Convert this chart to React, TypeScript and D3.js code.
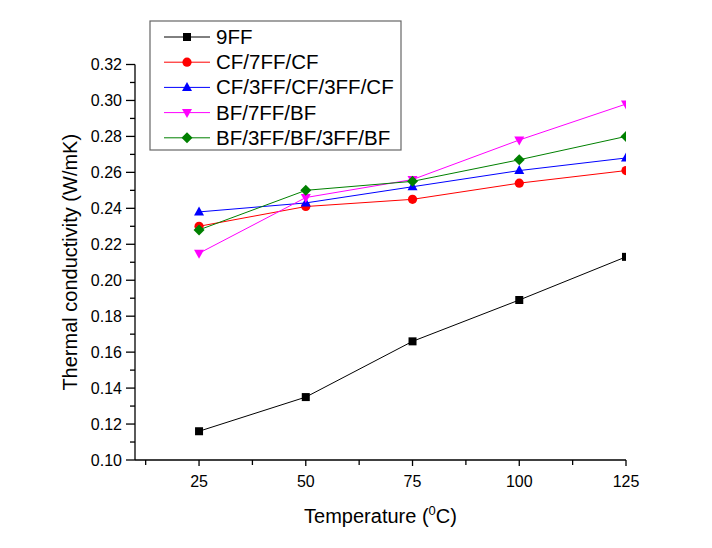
import React from "react";
import * as d3 from "d3";

const temps = [25, 50, 75, 100, 125];
const seriesNames = ["9FF", "CF/7FF/CF", "CF/3FF/CF/3FF/CF", "BF/7FF/BF", "BF/3FF/BF/3FF/BF"];
const s9FF = [0.116, 0.135, 0.166, 0.189, 0.213];
const sCF7 = [0.23, 0.241, 0.245, 0.254, 0.261];
const sCF3 = [0.238, 0.243, 0.252, 0.261, 0.268];
const sBF7 = [0.215, 0.246, 0.256, 0.278, 0.298];
const sBF3 = [0.228, 0.25, 0.255, 0.267, 0.28];
const seriesValues = [s9FF, sCF7, sCF3, sBF7, sBF3];
const colors = ["#000000", "#ff0000", "#0000ff", "#ff00ff", "#008000"];
const shapes = ["square", "circle", "triangle", "triangleDown", "diamond"];
const xTicks = [25, 50, 75, 100, 125];
const yTicks = [0.1, 0.12, 0.14, 0.16, 0.18, 0.2, 0.22, 0.24, 0.26, 0.28, 0.3, 0.32];

const W = 712, H = 548;
const left = 135, right = 626, top = 64.5, bottom = 460;
const FONT = "'Liberation Sans', Arial, sans-serif";

function Marker({ shape, x, y, color }: { shape: string; x: number; y: number; color: string }) {
  if (shape === "square") return <rect x={x - 4} y={y - 4} width={8} height={8} fill={color} />;
  if (shape === "circle") return <circle cx={x} cy={y} r={4.6} fill={color} />;
  if (shape === "triangle")
    return <path d={`M${x},${y - 5.5}L${x + 5},${y + 3.5}L${x - 5},${y + 3.5}Z`} fill={color} />;
  if (shape === "triangleDown")
    return <path d={`M${x},${y + 5.5}L${x + 5},${y - 3.5}L${x - 5},${y - 3.5}Z`} fill={color} />;
  return <path d={`M${x},${y - 5.5}L${x + 5.5},${y}L${x},${y + 5.5}L${x - 5.5},${y}Z`} fill={color} />;
}

export default function App() {
  const x = d3.scaleLinear().domain([10, 125]).range([left, right]);
  const y = d3.scaleLinear().domain([0.1, 0.32]).range([bottom, top]);
  const xMinor = d3.range(12.5, 125, 25);
  const yMinor = d3.range(0.11, 0.32, 0.02);
  const line = d3
    .line<number>()
    .x((_, i) => x(temps[i]))
    .y((d) => y(d));

  const legX = 150, legY = 21, legW = 251, legH = 129;
  const rowY = (i: number) => 37 + i * 25.2;

  return (
    <svg
      width={W}
      height={H}
      style={{ position: "absolute", left: 0, top: 0, background: "#fff" }}
      fontFamily={FONT}
    >
      <defs>
        <clipPath id="plotclip">
          <rect x={0} y={0} width={right} height={bottom} />
        </clipPath>
      </defs>
      <rect width={W} height={H} fill="#fff" />

      {/* axes */}
      <line x1={left} x2={left} y1={top} y2={bottom} stroke="#000" strokeWidth={1.3} />
      <line x1={left} x2={right} y1={bottom} y2={bottom} stroke="#000" strokeWidth={1.3} />
      {yTicks.map((t) => (
        <g key={"yt" + t}>
          <line x1={left - 9} x2={left} y1={y(t)} y2={y(t)} stroke="#000" strokeWidth={1.3} />
          <text x={left - 13} y={y(t) + 5.5} textAnchor="end" fontSize={16}>
            {t.toFixed(2)}
          </text>
        </g>
      ))}
      {yMinor.map((t) => (
        <line key={"ym" + t} x1={left - 5} x2={left} y1={y(t)} y2={y(t)} stroke="#000" strokeWidth={1.3} />
      ))}
      {xTicks.map((t) => (
        <g key={"xt" + t}>
          <line x1={x(t)} x2={x(t)} y1={bottom} y2={bottom + 6} stroke="#000" strokeWidth={1.3} />
          <text x={x(t)} y={bottom + 27} textAnchor="middle" fontSize={16}>
            {t}
          </text>
        </g>
      ))}
      {xMinor.map((t) => (
        <line key={"xm" + t} x1={x(t)} x2={x(t)} y1={bottom} y2={bottom + 5} stroke="#000" strokeWidth={1.3} />
      ))}

      {/* axis titles */}
      <text x={(left + right) / 2} y={523} textAnchor="middle" fontSize={20}>
        Temperature (
        <tspan fontSize={13} dy={-8}>0</tspan>
        <tspan dy={8}>C)</tspan>
      </text>
      <text
        transform={`translate(77,${(top + bottom) / 2}) rotate(-90)`}
        textAnchor="middle"
        fontSize={20}
      >
        Thermal conductivity (W/mK)
      </text>

      {/* series */}
      <g clipPath="url(#plotclip)">
        {seriesValues.map((vals, si) => (
          <g key={"s" + si}>
            <path d={line(vals) || ""} fill="none" stroke={colors[si]} strokeWidth={1} />
            {vals.map((v, i) => (
              <Marker key={i} shape={shapes[si]} x={x(temps[i])} y={y(v)} color={colors[si]} />
            ))}
          </g>
        ))}
      </g>

      {/* legend */}
      <rect x={legX} y={legY} width={legW} height={legH} fill="#fff" stroke="#666" strokeWidth={1.2} />
      {seriesNames.map((n, i) => (
        <g key={"l" + i}>
          <line x1={164} x2={210} y1={rowY(i)} y2={rowY(i)} stroke={colors[i]} strokeWidth={1} />
          <Marker shape={shapes[i]} x={187} y={rowY(i)} color={colors[i]} />
          <text x={216} y={rowY(i) + 7} fontSize={20.5}>
            {n}
          </text>
        </g>
      ))}
    </svg>
  );
}
